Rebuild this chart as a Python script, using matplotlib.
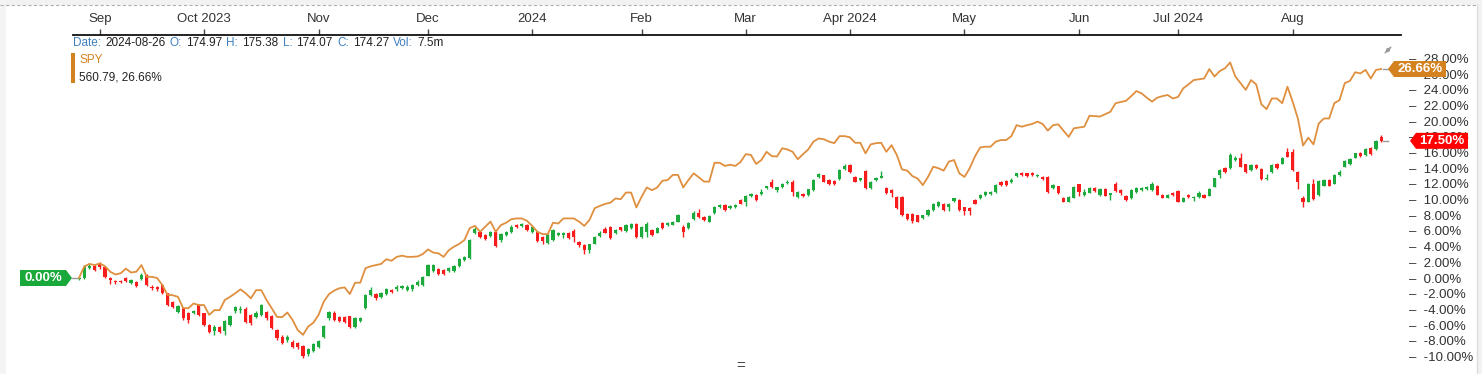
import numpy as np
import pandas as pd
import matplotlib
matplotlib.use("Agg")
import matplotlib.pyplot as plt
from matplotlib.patches import Polygon, Rectangle, FancyArrowPatch
from matplotlib.transforms import IdentityTransform

plt.rcParams['font.family'] = ['Liberation Sans', 'DejaVu Sans']

# trading days shown (Aug 28 2023 .. Aug 26 2024)
holidays = ['2023-09-04', '2023-11-23', '2023-12-25', '2024-01-01', '2024-01-15',
            '2024-02-19', '2024-03-29', '2024-05-27', '2024-06-19', '2024-07-04']
dates = pd.bdate_range('2023-08-28', '2024-08-26', freq='C', holidays=holidays)

month_labels = ["Sep", "Oct 2023", "Nov", "Dec", "2024", "Feb", "Mar",
                "Apr 2024", "May", "Jun", "Jul 2024", "Aug"]
y_ticks = list(range(-10, 29, 2))

# stock candles, % change vs first close
opens = [-0.15, 0.0, 1.25, 1.55, 1.8, 1.35, 0.0, -0.35, -0.35, -0.05,
         -0.6, -0.45, -0.15, 0.4, -1.1, -1.1, -0.9, -1.95, -3.0, -4.3,
         -3.85, -4.4, -4.45, -3.45, -4.5, -6.0, -6.7, -6.2, -6.8, -6.0,
         -4.2, -4.1, -3.9, -4.7, -5.0, -4.7, -4.3, -4.9, -6.65, -7.55,
         -7.9, -8.1, -8.3, -8.65, -9.75, -9.25, -8.75, -7.5, -5.15, -4.4,
         -5.0, -5.0, -4.9, -6.2, -5.45, -3.85, -2.15, -2.05, -2.4, -2.05,
         -1.55, -1.45, -1.3, -1.5, -1.45, -0.9, -0.9, 0.3, 0.9, 1.2,
         1.05, 0.85, 0.9, 1.55, 2.3, 2.5, 5.7, 5.9, 5.5, 5.3,
         5.85, 4.8, 5.5, 5.9, 6.75, 6.65, 6.75, 5.9, 5.9, 5.25,
         4.5, 4.85, 5.55, 5.5, 5.8, 6.05, 4.6, 4.2, 3.6, 4.4,
         5.3, 6.3, 6.55, 5.8, 6.45, 6.0, 6.35, 6.9, 5.2, 5.9,
         6.1, 5.8, 7.05, 6.75, 6.8, 7.2, 6.45, 6.35, 7.5, 8.25,
         7.8, 7.2, 8.25, 9.0, 9.3, 8.9, 9.0, 9.95, 9.75, 10.45,
         10.6, 10.7, 11.45, 12.3, 11.25, 11.55, 12.1, 12.3, 10.3, 10.7,
         10.6, 11.2, 12.85, 13.1, 12.5, 12.4, 12.6, 13.9, 14.4, 12.9,
         12.45, 13.7, 11.45, 12.5, 12.8, 11.45, 11.2, 10.35, 10.3, 8.15,
         8.2, 8.0, 7.6, 8.0, 8.65, 9.2, 9.5, 9.1, 9.85, 9.95,
         9.0, 8.9, 10.0, 10.15, 10.6, 10.75, 11.0, 12.3, 12.4, 12.2,
         13.0, 13.45, 13.35, 13.45, 13.0, 12.9, 12.85, 11.45, 11.7, 10.25,
         9.75, 10.25, 11.95, 10.6, 10.9, 11.45, 10.6, 11.35, 10.6, 12.05,
         11.2, 10.5, 10.15, 11.0, 11.25, 11.35, 11.2, 11.75, 10.6, 10.25,
         10.9, 11.1, 9.75, 10.65, 10.15, 10.35, 10.65, 10.5, 11.65, 13.15,
         14.0, 14.0, 15.05, 15.25, 14.5, 13.8, 14.4, 13.9, 12.65, 13.55,
         14.6, 14.6, 16.1, 16.1, 13.5, 10.25, 9.75, 12.05, 10.6, 11.8,
         12.5, 12.05, 13.15, 14.2, 14.5, 15.35, 16.0, 15.7, 16.55, 16.45,
         18.0]
closes = [0.0, 1.45, 1.5, 1.0, 1.35, 0.15, -0.3, -0.55, -0.55, -0.35,
          -0.25, -1.0, 0.4, -0.9, -1.3, -1.45, -1.9, -3.45, -3.65, -3.55,
          -5.15, -5.4, -4.2, -4.7, -6.0, -6.85, -6.2, -6.85, -5.5, -4.85,
          -3.7, -3.9, -5.55, -5.8, -4.4, -3.45, -5.15, -6.4, -7.7, -8.25,
          -7.5, -8.75, -8.75, -10.0, -9.1, -8.4, -8.0, -6.1, -4.3, -5.3,
          -5.45, -5.55, -6.2, -5.15, -5.15, -2.15, -1.5, -2.6, -1.9, -1.45,
          -1.75, -1.1, -1.0, -1.1, -0.9, -0.45, 0.1, 1.65, 1.7, 0.5,
          0.5, 1.25, 1.55, 2.4, 2.7, 4.9, 6.3, 5.25, 4.95, 5.9,
          4.1, 5.65, 5.9, 6.55, 6.45, 6.9, 6.1, 6.5, 4.75, 4.75,
          5.5, 6.1, 5.7, 5.7, 5.05, 5.2, 4.2, 3.55, 4.3, 5.25,
          5.7, 5.8, 5.05, 6.1, 6.1, 6.75, 6.95, 5.25, 6.55, 6.95,
          5.5, 6.4, 6.35, 7.05, 7.2, 8.05, 5.9, 7.05, 8.35, 7.75,
          7.4, 7.9, 9.1, 9.3, 8.65, 9.2, 9.3, 9.5, 10.45, 10.75,
          9.95, 11.0, 11.7, 11.55, 11.55, 12.0, 12.3, 11.0, 11.0, 10.4,
          11.3, 12.5, 13.25, 12.3, 12.0, 12.0, 13.8, 14.3, 13.55, 12.3,
          12.7, 11.45, 12.3, 12.7, 13.0, 10.8, 10.8, 8.9, 8.05, 7.5,
          7.3, 7.2, 8.0, 8.65, 9.5, 9.7, 8.65, 9.5, 10.15, 8.65,
          8.6, 8.5, 9.5, 10.6, 11.0, 11.0, 11.85, 11.85, 11.85, 12.5,
          13.35, 13.15, 13.0, 13.15, 13.15, 12.6, 11.0, 11.85, 10.9, 9.75,
          10.35, 11.65, 11.0, 11.0, 11.45, 11.1, 11.35, 10.5, 10.8, 11.1,
          10.8, 9.95, 11.2, 11.5, 11.5, 11.65, 12.05, 10.65, 10.25, 10.6,
          10.6, 9.75, 10.25, 10.35, 10.35, 10.9, 10.25, 11.35, 12.7, 13.75,
          13.5, 15.75, 15.35, 14.2, 13.5, 14.4, 14.05, 12.6, 12.8, 14.4,
          14.0, 15.25, 15.5, 13.8, 12.3, 9.75, 12.05, 10.1, 12.35, 12.5,
          11.8, 13.2, 13.55, 14.9, 15.2, 15.9, 15.6, 16.45, 15.8, 17.5,
          17.5]
highs = [0.15, 1.6, 1.85, 1.7, 2.0, 1.45, 0.1, -0.2, -0.25, 0.1,
         -0.1, -0.35, 0.6, 0.55, -0.95, -1.0, -0.8, -1.85, -2.9, -3.4,
         -3.7, -4.3, -4.05, -3.3, -4.4, -5.9, -6.05, -6.1, -5.4, -4.7,
         -3.55, -3.6, -3.75, -4.55, -4.25, -3.3, -4.15, -4.75, -6.5, -7.3,
         -7.25, -7.95, -8.15, -8.5, -8.95, -8.25, -7.85, -5.95, -4.15, -4.25,
         -4.85, -4.9, -4.8, -5.0, -5.0, -2.0, -1.1, -1.9, -1.75, -1.3,
         -1.45, -0.95, -0.85, -0.95, -0.75, -0.3, 0.25, 1.8, 1.85, 1.3,
         1.15, 1.4, 1.7, 2.55, 2.85, 5.0, 6.45, 6.0, 5.6, 6.05,
         5.95, 5.8, 6.05, 6.7, 6.85, 7.0, 6.85, 6.6, 6.0, 5.35,
         5.6, 6.2, 5.85, 5.85, 5.9, 6.2, 4.75, 4.3, 4.4, 5.4,
         6.0, 6.45, 6.65, 6.2, 6.55, 6.85, 7.05, 7.0, 6.65, 7.1,
         6.2, 6.5, 7.2, 7.15, 7.3, 8.2, 6.7, 7.15, 8.5, 8.8,
         7.9, 8.0, 9.2, 9.45, 9.4, 9.3, 9.4, 10.1, 10.6, 10.9,
         10.7, 11.3, 11.8, 12.6, 11.65, 12.15, 12.45, 12.45, 11.1, 10.8,
         11.4, 12.6, 13.4, 13.2, 12.6, 12.5, 13.9, 14.6, 14.55, 13.0,
         12.8, 13.8, 12.4, 12.85, 13.6, 11.55, 11.3, 10.45, 10.4, 8.25,
         8.3, 8.1, 8.1, 8.8, 9.6, 9.8, 9.6, 9.6, 10.25, 10.05,
         9.1, 9.05, 10.1, 10.7, 11.1, 11.1, 11.95, 12.4, 12.5, 12.7,
         13.45, 13.55, 13.45, 13.55, 13.25, 13.0, 12.95, 11.95, 11.8, 10.35,
         10.45, 11.75, 12.05, 11.3, 11.55, 11.55, 11.45, 11.45, 10.9, 12.2,
         11.3, 10.6, 11.3, 11.6, 11.6, 11.75, 12.3, 11.85, 10.7, 10.7,
         11.0, 11.2, 10.35, 10.75, 10.45, 11.1, 10.75, 11.45, 12.8, 13.85,
         14.1, 15.9, 15.55, 15.95, 14.6, 14.5, 14.5, 14.0, 13.3, 14.5,
         14.7, 15.4, 16.6, 16.4, 13.6, 10.4, 12.15, 12.6, 12.45, 12.6,
         12.6, 13.3, 13.75, 15.0, 15.3, 16.0, 16.1, 16.55, 16.65, 17.6,
         18.3]
lows = [-0.3, -0.1, 1.15, 0.9, 1.2, 0.05, -0.8, -0.75, -0.7, -0.45,
        -0.75, -1.15, -0.25, -1.0, -1.5, -1.6, -2.0, -3.55, -3.8, -4.4,
        -5.3, -5.75, -4.6, -4.85, -6.15, -7.05, -7.3, -7.0, -7.3, -6.15,
        -4.5, -4.5, -5.7, -6.0, -5.15, -4.85, -5.3, -6.55, -7.85, -8.4,
        -8.1, -8.9, -9.0, -10.2, -9.95, -9.4, -8.9, -7.65, -5.3, -5.45,
        -5.6, -5.75, -6.35, -6.35, -5.6, -4.0, -2.3, -2.75, -2.55, -2.2,
        -1.9, -1.6, -1.4, -1.6, -1.6, -1.0, -1.0, 0.2, 0.8, 0.35,
        0.4, 0.75, 0.8, 1.45, 2.2, 2.4, 5.6, 5.1, 4.8, 5.2,
        3.95, 4.65, 5.4, 5.8, 6.35, 6.55, 6.0, 5.8, 4.6, 4.35,
        4.35, 4.75, 5.4, 5.1, 4.95, 4.6, 3.9, 3.1, 3.2, 4.3,
        5.2, 5.7, 4.95, 5.6, 6.0, 5.9, 6.25, 5.1, 5.05, 5.2,
        5.35, 5.7, 6.25, 6.65, 6.7, 7.1, 5.2, 6.25, 7.4, 7.65,
        7.3, 7.1, 8.15, 8.9, 8.55, 8.8, 8.9, 9.4, 9.2, 10.35,
        9.85, 10.6, 11.35, 11.45, 10.95, 11.45, 12.0, 10.4, 10.2, 10.3,
        10.5, 11.1, 12.75, 12.2, 11.9, 11.9, 12.5, 13.8, 13.45, 12.2,
        12.35, 11.35, 11.35, 12.4, 12.7, 10.7, 10.35, 8.8, 7.95, 7.4,
        7.0, 7.1, 7.5, 7.9, 8.55, 9.1, 8.55, 8.5, 9.75, 8.55,
        8.05, 8.0, 9.4, 10.05, 10.5, 10.65, 10.9, 11.75, 11.75, 12.1,
        12.9, 13.05, 12.9, 13.05, 12.9, 12.5, 10.9, 11.35, 10.75, 9.65,
        9.65, 10.15, 10.5, 10.5, 10.8, 11.0, 10.5, 10.4, 10.0, 11.0,
        10.6, 9.85, 10.05, 10.9, 11.15, 11.25, 11.1, 10.55, 10.15, 10.15,
        10.5, 9.65, 9.65, 10.25, 9.8, 10.25, 10.15, 10.4, 11.55, 12.7,
        13.4, 13.9, 14.95, 14.1, 13.4, 13.7, 13.95, 12.5, 12.55, 13.45,
        13.9, 14.5, 15.4, 13.6, 11.3, 9.0, 9.65, 10.0, 10.5, 11.7,
        11.7, 11.95, 13.05, 14.1, 14.4, 15.25, 15.5, 15.6, 15.7, 16.35,
        17.4]

# SPY comparison line, % change
spy = [0.0, 1.45, 1.8, 1.65, 1.85, 1.5, 0.8, 0.45, 0.6, 1.2,
       0.7, 0.8, 1.65, 0.15, 0.15, 0.0, -0.9, -2.15, -2.2, -2.4,
       -3.85, -3.85, -3.25, -3.45, -3.45, -4.7, -4.1, -4.1, -2.8, -2.4,
       -1.95, -1.45, -1.95, -2.6, -1.55, -1.55, -2.8, -3.85, -4.95, -5.0,
       -4.4, -5.35, -6.65, -7.25, -6.2, -5.7, -4.7, -3.0, -2.05, -1.6,
       -1.3, -1.2, -2.05, -0.6, -0.6, 1.25, 1.5, 1.65, 1.8, 2.4,
       2.2, 2.7, 2.85, 2.7, 2.7, 2.75, 3.05, 3.65, 3.25, 3.15,
       2.7, 3.55, 4.0, 4.35, 4.85, 6.35, 6.65, 5.9, 6.55, 7.2,
       5.9, 6.75, 7.05, 7.5, 7.6, 7.6, 7.3, 6.65, 5.9, 5.6,
       5.6, 7.05, 6.95, 7.6, 7.6, 7.6, 7.2, 6.65, 7.4, 8.9,
       9.2, 9.45, 9.6, 10.15, 10.05, 10.9, 10.9, 9.0, 10.35, 11.55,
       11.2, 11.55, 12.4, 12.5, 13.15, 13.15, 11.55, 12.5, 13.35, 12.85,
       12.3, 12.3, 14.7, 14.7, 14.3, 14.45, 14.3, 14.8, 15.8, 15.7,
       14.55, 15.05, 16.1, 15.55, 15.5, 16.55, 16.4, 16.1, 15.15, 15.8,
       16.4, 17.4, 17.8, 17.7, 17.4, 17.2, 18.1, 18.1, 17.95, 17.25,
       17.25, 15.9, 17.05, 17.2, 17.25, 16.1, 16.95, 15.7, 13.85, 13.7,
       13.0, 12.7, 11.85, 12.9, 14.2, 14.0, 13.7, 14.85, 15.05, 13.35,
       12.9, 14.0, 15.5, 16.65, 16.75, 16.75, 17.4, 17.6, 17.6, 18.1,
       19.5, 19.3, 19.5, 19.65, 19.95, 19.65, 18.8, 19.5, 19.6, 18.8,
       18.0, 19.1, 19.2, 19.3, 20.7, 20.65, 20.6, 20.9, 21.2, 22.3,
       22.45, 22.6, 23.2, 23.85, 23.55, 23.0, 22.5, 23.0, 23.2, 23.35,
       22.9, 23.1, 24.2, 24.7, 25.25, 25.35, 25.45, 26.65, 25.7, 26.4,
       26.75, 27.5, 25.7, 24.85, 24.0, 25.25, 24.7, 22.15, 21.55, 22.9,
       22.9, 22.3, 24.4, 22.5, 20.35, 16.9, 17.9, 17.05, 19.7, 20.35,
       20.35, 22.3, 22.7, 24.85, 25.15, 26.25, 26.1, 26.55, 25.45, 26.55,
       26.66]

info_parts = [("Date:", "k"), ("2024-08-26", "v"), ("O:", "k"), ("174.97", "v"),
              ("H:", "k"), ("175.38", "v"), ("L:", "k"), ("174.07", "v"),
              ("C:", "k"), ("174.27", "v"), ("Vol:", "k"), ("7.5m", "v")]

GREEN = '#1daa3c'
RED = '#f81c1c'
ORANGE_LINE = '#df8f3e'
ORANGE_TAG = '#d4821f'

W, H = 1482, 374
fig = plt.figure(figsize=(W / 100, H / 100), dpi=100)
fig.patch.set_facecolor('white')

# frame around the widget
fig.add_artist(Rectangle((0, 1 - 5 / H), 1, 5 / H, transform=fig.transFigure,
                         facecolor='#f2f2f2', edgecolor='none', zorder=-5))
fig.add_artist(Rectangle((1477 / W, 0), 1, 1, transform=fig.transFigure,
                         facecolor='#f2f2f2', edgecolor='none', zorder=-5))
fig.add_artist(Rectangle((0, 0), 6 / W, 1, transform=fig.transFigure,
                         facecolor='#f4f4f4', edgecolor='none', zorder=-5))
fig.add_artist(plt.Line2D([0, 1477 / W], [1 - 5 / H, 1 - 5 / H], transform=fig.transFigure,
                          color='#b0b0b0', lw=0.8, ls=(0, (3, 2))))
fig.add_artist(plt.Line2D([1477 / W, 1477 / W], [0, 1 - 5 / H], transform=fig.transFigure,
                          color='#dddddd', lw=1))

ax = fig.add_axes([73 / W, 2 / H, (1401 - 73) / W, (372 - 35) / H])
ax.set_facecolor('none')

x = np.arange(len(dates))
o = np.array(opens)
c = np.array(closes)
up = c >= o
cols = np.where(up, GREEN, RED)

ax.vlines(x, lows, highs, colors=cols, lw=1.0, zorder=2)
body = np.maximum(np.abs(c - o), 0.1)
ax.bar(x, body, bottom=np.minimum(o, c), width=0.62, color=cols, linewidth=0, zorder=3)
ax.plot(x, spy, color=ORANGE_LINE, lw=1.3, zorder=4)

ax.set_xlim(-1.15, 253.8)
ax.set_ylim(-11.99, 31.0)

# month ticks at first trading day of each month
idx = pd.Series(x, index=dates)
firsts = idx.groupby(dates.to_period('M')).first()
tick_pos = firsts.values[1:]
ax.xaxis.tick_top()
ax.set_xticks(tick_pos)
ax.set_xticklabels(month_labels)
ax.tick_params(axis='x', direction='out', length=4, width=1, color='#444',
               labelsize=9.5, labelcolor='#333', pad=3)

ax.yaxis.tick_right()
ax.set_yticks(y_ticks)
ax.set_yticklabels([f"\u2013  {v:.2f}%" for v in y_ticks])
ax.tick_params(axis='y', length=0, pad=6, labelsize=9.5, labelcolor='#333')

for s in ['left', 'right', 'bottom']:
    ax.spines[s].set_visible(False)
ax.spines['top'].set_color('#111')
ax.spines['top'].set_linewidth(1.3)

# info row
t = fig.text(73 / W, 1 - 43 / H, info_parts[0][0], color='#3f7fbf', fontsize=8.5, va='center')
for s, kind in info_parts[1:]:
    t = ax.annotate(s, xy=(1, 0), xycoords=t, xytext=(3, 0), textcoords='offset points',
                    va='bottom', ha='left', fontsize=8.5,
                    color='#3f7fbf' if kind == 'k' else '#222')

# legend for SPY
fig.add_artist(Rectangle((71 / W, 1 - 83 / H), 4 / W, 30 / H, transform=fig.transFigure,
                         facecolor=ORANGE_TAG, edgecolor='none'))
fig.text(79 / W, 1 - 60 / H, "SPY", color=ORANGE_TAG, fontsize=8.5, va='center')
fig.text(79 / W, 1 - 77 / H, f"560.79, {spy[-1]:.2f}%", color='#222', fontsize=8.5, va='center')


def tag(val, tip, width, color, label, pointing):
    yd = ax.transData.transform((0, val))[1]
    hh = 8
    s = 1 if pointing == 'left' else -1
    pts = [(tip, yd), (tip + s * 6, yd + hh), (tip + s * width, yd + hh),
           (tip + s * width, yd - hh), (tip + s * 6, yd - hh)]
    fig.add_artist(Polygon(pts, closed=True, transform=IdentityTransform(),
                           facecolor=color, edgecolor='none', zorder=6))
    cx = tip + s * (6 + (width - 6) / 2)
    fig.text(cx, yd, label, transform=IdentityTransform(), color='white',
             fontsize=9.5, fontweight='bold', ha='center', va='center', zorder=7)


# short grey connectors from the last / first points
last_x = ax.transData.transform((x[-1], 0))[0]
first_x = ax.transData.transform((x[0], 0))[0]
for val in [spy[-1], closes[-1]]:
    yd = ax.transData.transform((0, val))[1]
    fig.add_artist(plt.Line2D([last_x + 2, last_x + 7], [yd, yd], transform=IdentityTransform(),
                              color='#999', lw=1, zorder=5))
yd0 = ax.transData.transform((0, closes[0]))[1]
fig.add_artist(plt.Line2D([72, first_x - 2], [yd0, yd0], transform=IdentityTransform(),
                          color='#999', lw=1, zorder=5))

tag(spy[-1], 1388, 58, ORANGE_TAG, f"{spy[-1]:.2f}%", 'left')
tag(closes[-1], 1410, 58, '#ff0000', f"{closes[-1]:.2f}%", 'left')
tag(closes[0], 72, 52, '#19a83a', "0.00%", 'right')

# expand icon (two small diagonal arrows) and bottom handle
ic_x, ic_y = 1388, H - 50
for dx, dy in [(1, 1), (-1, -1)]:
    fig.add_artist(FancyArrowPatch((ic_x + dx * 1, ic_y + dy * 1), (ic_x + dx * 5, ic_y + dy * 5),
                                   transform=IdentityTransform(), arrowstyle='-|>',
                                   mutation_scale=5, color='#999', lw=0.9, zorder=6))
fig.text(741 / W, 1 - 366 / H, "=", color='#444', fontsize=11, ha='center', va='center')

fig.savefig("out.png", dpi=100)
